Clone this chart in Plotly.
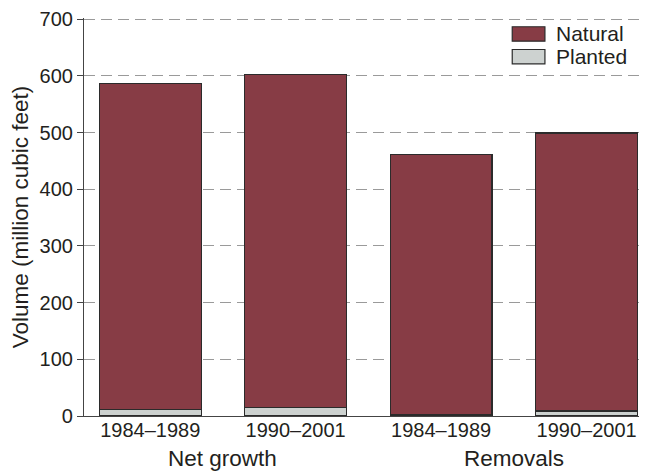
import plotly.graph_objects as go

# ── Data ────────────────────────────────────────────────────────────────────
GROUPS  = ["Net growth", "Removals"]
PERIODS = ["1984–1989", "1990–2001", "1984–1989", "1990–2001"]
TOTAL   = [586, 602, 461, 499]
PLANTED = [11, 15, 2, 9]
NATURAL = [t - p for t, p in zip(TOTAL, PLANTED)]

Y_TICKS = [0, 100, 200, 300, 400, 500, 600, 700]

# ── Style ───────────────────────────────────────────────────────────────────
MAROON = "#873C45"
GREYC  = "#CDD2D0"
EDGE   = "#2b2b2b"
TXT    = "#231f20"
GRID   = "#9a9a9a"
AXIS   = "#444444"
FONT   = "Liberation Sans, Arial, sans-serif"
FS_TICK  = 20
FS_LABEL = 22.5

xpos = list(range(len(PERIODS)))

fig = go.Figure()
fig.add_trace(go.Bar(
    x=xpos, y=PLANTED, name="Planted",
    marker=dict(color=GREYC, line=dict(color=EDGE, width=1.2)),
    width=0.7, showlegend=False,
))
fig.add_trace(go.Bar(
    x=xpos, y=NATURAL, name="Natural",
    marker=dict(color=MAROON, line=dict(color=EDGE, width=1.2)),
    width=0.7, showlegend=False,
))

# group labels centred under each pair of bars
for gi, g in enumerate(GROUPS):
    fig.add_annotation(
        x=2 * gi + 0.5, xref="x", y=-0.107, yref="paper",
        yanchor="middle", text=g, showarrow=False,
        font=dict(size=FS_LABEL, color=TXT),
    )

# legend drawn as swatches (wide rectangles as in the original)
LEGEND = [("Natural", MAROON, 0.978, 0.9418), ("Planted", GREYC, 0.9209, 0.8849)]
for name, col, y1, y0 in LEGEND:
    fig.add_shape(
        type="rect", xref="paper", yref="paper",
        x0=0.7716, x1=0.8305, y0=y0, y1=y1,
        fillcolor=col, line=dict(color=EDGE, width=1.2), layer="above",
    )
    fig.add_annotation(
        x=0.8468, xref="paper", y=(y0 + y1) / 2, yref="paper",
        xanchor="left", yanchor="middle", text=name, showarrow=False,
        font=dict(size=21, color=TXT),
    )

# page body keeps an 8px margin, so the figure is 8px smaller than the window
fig.update_layout(
    width=640, height=464,
    barmode="stack",
    paper_bgcolor="white", plot_bgcolor="white",
    font=dict(family=FONT, size=FS_TICK, color=TXT),
    margin=dict(l=76, r=9, t=10, b=56, pad=0),
    showlegend=False,
    xaxis=dict(
        range=[-0.455, 3.36],
        tickvals=xpos, ticktext=PERIODS,
        showline=True, linecolor=AXIS, linewidth=1.2,
        ticks="", showgrid=False, zeroline=False,
        tickfont=dict(size=FS_TICK, color=TXT),
        ticklabelstandoff=-4,
        automargin=False,
    ),
    yaxis=dict(
        # top just above 700 so the dashed 700 gridline is kept
        range=[0, 702], tickvals=Y_TICKS,
        showline=True, linecolor=AXIS, linewidth=1.2,
        ticks="outside", ticklen=6, tickcolor=AXIS,
        showgrid=True, gridcolor=GRID, gridwidth=1.3, griddash="11px,6px",
        zeroline=False,
        tickfont=dict(size=FS_TICK, color=TXT),
        title=dict(text="Volume (million cubic feet)", font=dict(size=FS_LABEL, color=TXT), standoff=6),
        automargin=False,
    ),
)

fig.write_html("out.html")
